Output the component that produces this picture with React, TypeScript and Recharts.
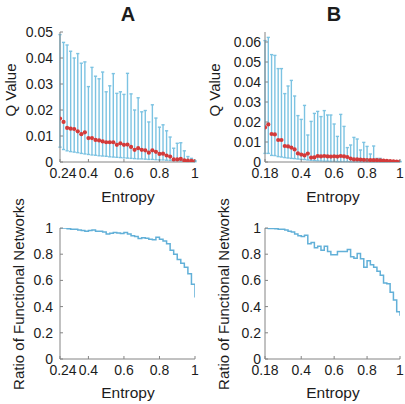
import { LineChart, Line, XAxis, YAxis, ErrorBar } from "recharts";

// entropy bins (x) for the two datasets
const entropyA = [
  0.24, 0.26, 0.28, 0.3, 0.32, 0.34, 0.36, 0.38, 0.4, 0.42, 0.44, 0.46, 0.48,
  0.5, 0.52, 0.54, 0.56, 0.58, 0.6, 0.62, 0.64, 0.66, 0.68, 0.7, 0.72, 0.74,
  0.76, 0.78, 0.8, 0.82, 0.84, 0.86, 0.88, 0.9, 0.92, 0.94, 0.96, 0.98, 1.0,
];
const entropyB = [
  0.18, 0.2, 0.22, 0.24, 0.26, 0.28, 0.3, 0.32, 0.34, 0.36, 0.38, 0.4, 0.42,
  0.44, 0.46, 0.48, 0.5, 0.52, 0.54, 0.56, 0.58, 0.6, 0.62, 0.64, 0.66, 0.68,
  0.7, 0.72, 0.74, 0.76, 0.78, 0.8, 0.82, 0.84, 0.86, 0.88, 0.9, 0.92, 0.94,
  0.96, 0.98, 1.0,
];

// Q value: mean, lower and upper end of the bar
const qMeanA = [
  0.0167, 0.0154, 0.0131, 0.0128, 0.0127, 0.0118, 0.0107, 0.0114, 0.0092,
  0.0092, 0.0085, 0.0083, 0.0079, 0.0076, 0.0076, 0.0076, 0.0066, 0.0072,
  0.0066, 0.0067, 0.0058, 0.0047, 0.0053, 0.0047, 0.0045, 0.0036, 0.0045,
  0.0039, 0.0031, 0.0032, 0.0025, 0.0021, 0.001, 0.001, 0.0012, 0.0006,
  0.0005, 0.0004, 0.0003,
];
const qLowA = [
  0.0057, 0.0048, 0.0043, 0.004, 0.0038, 0.0036, 0.0033, 0.0031, 0.0029,
  0.0027, 0.0026, 0.0024, 0.0023, 0.0022, 0.002, 0.0019, 0.0018, 0.0017,
  0.0016, 0.0015, 0.0014, 0.0013, 0.0012, 0.0012, 0.0011, 0.001, 0.001,
  0.0009, 0.0008, 0.0008, 0.0007, 0.0006, 0.0005, 0.0005, 0.0004, 0.0003,
  0.0002, 0.0002, 0.0001,
];
const qHighA = [
  0.049, 0.046, 0.045, 0.0426, 0.04, 0.0417, 0.038, 0.0385, 0.029, 0.0364,
  0.033, 0.032, 0.0346, 0.027, 0.0293, 0.034, 0.0264, 0.027, 0.026, 0.0341,
  0.0262, 0.02, 0.0247, 0.0193, 0.0198, 0.0154, 0.022, 0.0169, 0.0134, 0.0143,
  0.012, 0.0096, 0.0053, 0.0072, 0.0074, 0.0043, 0.0021, 0.0014, 0.0005,
];

const qMeanB = [
  0.0173, 0.0188, 0.014, 0.0138, 0.011, 0.011, 0.008, 0.0078, 0.0072, 0.0063,
  0.0043, 0.0037, 0.0033, 0.0042, 0.0022, 0.0023, 0.003, 0.0028, 0.003,
  0.0028, 0.0027, 0.0028, 0.0027, 0.003, 0.0028, 0.0025, 0.0017, 0.0013,
  0.0013, 0.0012, 0.0011, 0.001, 0.001, 0.0009, 0.0009, 0.0008, 0.0007,
  0.0006, 0.0004, 0.0003, 0.0002, 0.0002,
];
const qLowB = [
  0.0043, 0.0043, 0.0033, 0.0032, 0.0027, 0.0025, 0.0022, 0.002, 0.0018,
  0.0017, 0.0015, 0.0013, 0.0012, 0.001, 0.0008, 0.0007, 0.0006, 0.0005,
  0.0004, 0.0004, 0.0003, 0.0003, 0.0002, 0.0002, 0.0002, 0.0002, 0.0001,
  0.0001, 0.0001, 0.0001, 0.0001, 0.0001, 0.0001, 0.0001, 0.0001, 0.0001,
  0.0001, 0.0001, 0.0001, 0.0001, 0.0001, 0.0001,
];
const qHighB = [
  0.0607, 0.0623, 0.0537, 0.0533, 0.0467, 0.0467, 0.0342, 0.038, 0.0408,
  0.033, 0.0232, 0.0213, 0.0283, 0.0135, 0.0203, 0.0243, 0.0253, 0.0227,
  0.0257, 0.0235, 0.0235, 0.019, 0.0128, 0.0238, 0.0178, 0.0072, 0.0085,
  0.0123, 0.0115, 0.006, 0.0098, 0.0078, 0.004, 0.008, 0.0018, 0.0018, 0.001,
  0.0008, 0.0006, 0.0005, 0.0004, 0.0003,
];

// ratio of functional networks
const ratioA = [
  1.0, 1.0, 0.995, 0.99, 0.99, 0.985, 0.98, 0.975, 0.98, 0.985, 0.975, 0.975,
  0.97, 0.955, 0.96, 0.965, 0.962, 0.958, 0.965, 0.955, 0.94, 0.935, 0.92,
  0.925, 0.922, 0.915, 0.91, 0.93, 0.915, 0.9, 0.88, 0.83, 0.8, 0.76, 0.73,
  0.7, 0.65, 0.57, 0.47,
];
const ratioB = [
  1.0, 0.997, 0.997, 0.995, 0.99, 0.99, 0.985, 0.975, 0.97, 0.955, 0.94,
  0.935, 0.945, 0.88, 0.89, 0.85, 0.86, 0.83, 0.86, 0.82, 0.795, 0.795, 0.82,
  0.82, 0.82, 0.835, 0.78, 0.77, 0.805, 0.765, 0.7, 0.75, 0.72, 0.7, 0.67,
  0.64, 0.58, 0.575, 0.51, 0.45, 0.36, 0.33,
];

const xTicksA = [0.24, 0.4, 0.6, 0.8, 1];
const xTicksB = [0.18, 0.4, 0.6, 0.8, 1];
const qTicksA = [0, 0.01, 0.02, 0.03, 0.04, 0.05];
const qTicksB = [0, 0.01, 0.02, 0.03, 0.04, 0.05, 0.06];
const ratioTicks = [0, 0.2, 0.4, 0.6, 0.8, 1];

const AXIS = "#848484";
const TXT = "#1c1c1c";
const BAR = "#7cc3e2";
const DOT = "#d33a3a";
const STEP = "#62b0d8";
const FONT = "'Liberation Sans', Arial, Helvetica, sans-serif";

const fmt = (v: number) => String(v);

function BottomTick(props: any) {
  const { x, y, payload, index, shift = 0, margin = 6 } = props;
  const axisY = y - margin;
  return (
    <g>
      <line x1={x} x2={x} y1={axisY} y2={axisY - 3} stroke={AXIS} />
      <text
        x={x + (index === 0 ? shift : 0)}
        y={y}
        dy="0.71em"
        textAnchor="middle"
        fontSize={14}
        fill={TXT}
        fontFamily={FONT}
      >
        {fmt(payload.value)}
      </text>
    </g>
  );
}

function LeftTick(props: any) {
  const { x, y, payload, margin = 6 } = props;
  const axisX = x + margin;
  return (
    <g>
      <line x1={axisX} x2={axisX + 3} y1={y} y2={y} stroke={AXIS} />
      <text
        x={x}
        y={y}
        dy="0.36em"
        textAnchor="end"
        fontSize={14}
        fill={TXT}
        fontFamily={FONT}
      >
        {fmt(payload.value)}
      </text>
    </g>
  );
}

function TopTick(props: any) {
  const { x, y } = props;
  return <line x1={x} x2={x} y1={y} y2={y + 3} stroke={AXIS} />;
}

function RightTick(props: any) {
  const { x, y } = props;
  return <line x1={x} x2={x - 3} y1={y} y2={y} stroke={AXIS} />;
}

function RedDot(props: any) {
  const { cx, cy } = props;
  if (cx == null || cy == null) return null;
  return <circle cx={cx} cy={cy} r={2.1} fill={DOT} />;
}

interface FrameProps {
  xTicks: number[];
  xDomain: [number, number];
  yTicks: number[];
  yDomain: [number, number];
  yMargin: number;
  firstShift: number;
}

function frame({ xTicks, xDomain, yTicks, yDomain, yMargin, firstShift }: FrameProps) {
  return [
    <XAxis
      key="xb"
      dataKey="x"
      type="number"
      domain={xDomain}
      ticks={xTicks}
      interval={0}
      height={40}
      tickSize={0}
      tickMargin={6}
      tickLine={false}
      axisLine={{ stroke: AXIS }}
      tick={<BottomTick shift={firstShift} margin={6} />}
      allowDataOverflow
    />,
    <XAxis
      key="xt"
      xAxisId="top"
      orientation="top"
      dataKey="x"
      type="number"
      domain={xDomain}
      ticks={xTicks}
      interval={0}
      height={0}
      tickSize={0}
      tickMargin={0}
      tickLine={false}
      axisLine={{ stroke: AXIS }}
      tick={<TopTick />}
      allowDataOverflow
    />,
    <YAxis
      key="yl"
      type="number"
      domain={yDomain}
      ticks={yTicks}
      interval={0}
      width={60}
      tickSize={0}
      tickMargin={yMargin}
      tickLine={false}
      axisLine={{ stroke: AXIS }}
      tick={<LeftTick margin={yMargin} />}
      allowDataOverflow
    />,
    <YAxis
      key="yr"
      yAxisId="right"
      orientation="right"
      type="number"
      domain={yDomain}
      ticks={yTicks}
      interval={0}
      width={0}
      tickSize={0}
      tickMargin={0}
      tickLine={false}
      axisLine={{ stroke: AXIS }}
      tick={<RightTick />}
      allowDataOverflow
    />,
  ];
}

function QPanel(props: {
  left: number;
  top: number;
  xs: number[];
  mean: number[];
  low: number[];
  high: number[];
  xTicks: number[];
  yTicks: number[];
  yMax: number;
  yMargin: number;
  firstShift: number;
}) {
  const { left, top, xs, mean, low, high, xTicks, yTicks, yMax, yMargin, firstShift } = props;
  const data = xs.map((x, i) => ({
    x,
    mean: mean[i],
    err: [mean[i] - low[i], high[i] - mean[i]],
  }));
  return (
    <div style={{ position: "absolute", left, top }}>
      <LineChart
        width={200}
        height={210}
        data={data}
        margin={{ top: 32, right: 5, bottom: 8, left: 0 }}
      >
        {frame({
          xTicks,
          xDomain: [xs[0], 1],
          yTicks,
          yDomain: [0, yMax],
          yMargin,
          firstShift,
        })}
        <Line
          dataKey="mean"
          stroke="none"
          dot={<RedDot />}
          activeDot={false}
          isAnimationActive={false}
        >
          <ErrorBar
            dataKey="err"
            direction="y"
            width={1.6}
            stroke={BAR}
            strokeWidth={1.4}
            isAnimationActive={false}
          />
        </Line>
      </LineChart>
    </div>
  );
}

function RatioPanel(props: {
  left: number;
  top: number;
  xs: number[];
  ratio: number[];
  xTicks: number[];
  yMargin: number;
  firstShift: number;
}) {
  const { left, top, xs, ratio, xTicks, yMargin, firstShift } = props;
  const data = xs.map((x, i) => ({ x, r: ratio[i] }));
  return (
    <div style={{ position: "absolute", left, top }}>
      <LineChart
        width={200}
        height={208}
        data={data}
        margin={{ top: 32, right: 5, bottom: 5, left: 0 }}
      >
        {frame({
          xTicks,
          xDomain: [xs[0], 1],
          yTicks: ratioTicks,
          yDomain: [0, 1],
          yMargin,
          firstShift,
        })}
        <Line
          type="stepAfter"
          dataKey="r"
          stroke={STEP}
          strokeWidth={1.5}
          dot={false}
          activeDot={false}
          isAnimationActive={false}
        />
      </LineChart>
    </div>
  );
}

const labelStyle = { fontFamily: FONT, fill: TXT } as const;

export default function App() {
  return (
    <div
      style={{
        position: "absolute",
        left: 0,
        top: 0,
        width: 405,
        height: 404,
        background: "#fff",
      }}
    >
      <QPanel
        left={0}
        top={0}
        xs={entropyA}
        mean={qMeanA}
        low={qLowA}
        high={qHighA}
        xTicks={xTicksA}
        yTicks={qTicksA}
        yMax={0.05}
        yMargin={7}
        firstShift={3}
      />
      <QPanel
        left={205}
        top={0}
        xs={entropyB}
        mean={qMeanB}
        low={qLowB}
        high={qHighB}
        xTicks={xTicksB}
        yTicks={qTicksB}
        yMax={0.065}
        yMargin={4}
        firstShift={0}
      />
      <RatioPanel
        left={0}
        top={196}
        xs={entropyA}
        ratio={ratioA}
        xTicks={xTicksA}
        yMargin={7}
        firstShift={3}
      />
      <RatioPanel
        left={205}
        top={196}
        xs={entropyB}
        ratio={ratioB}
        xTicks={xTicksB}
        yMargin={4}
        firstShift={0}
      />
      <svg
        width={405}
        height={404}
        style={{ position: "absolute", left: 0, top: 0, pointerEvents: "none" }}
      >
        <text x={128} y={21} textAnchor="middle" fontSize={20} fontWeight="bold" {...labelStyle}>
          A
        </text>
        <text x={334} y={21} textAnchor="middle" fontSize={20} fontWeight="bold" {...labelStyle}>
          B
        </text>
        <text x={128} y={196} textAnchor="middle" dominantBaseline="central" fontSize={15.5} {...labelStyle}>
          Entropy
        </text>
        <text x={333} y={196} textAnchor="middle" dominantBaseline="central" fontSize={15.5} {...labelStyle}>
          Entropy
        </text>
        <text x={128} y={392} textAnchor="middle" dominantBaseline="central" fontSize={15.5} {...labelStyle}>
          Entropy
        </text>
        <text x={333} y={392} textAnchor="middle" dominantBaseline="central" fontSize={15.5} {...labelStyle}>
          Entropy
        </text>
        <text
          transform="translate(10 90) rotate(-90)"
          textAnchor="middle"
          dominantBaseline="central"
          fontSize={15}
          {...labelStyle}
        >
          Q Value
        </text>
        <text
          transform="translate(214 90) rotate(-90)"
          textAnchor="middle"
          dominantBaseline="central"
          fontSize={15}
          {...labelStyle}
        >
          Q Value
        </text>
        <text
          transform="translate(18 294) rotate(-90)"
          textAnchor="middle"
          dominantBaseline="central"
          fontSize={15}
          {...labelStyle}
        >
          Ratio of Functional Networks
        </text>
        <text
          transform="translate(223 294) rotate(-90)"
          textAnchor="middle"
          dominantBaseline="central"
          fontSize={15}
          {...labelStyle}
        >
          Ratio of Functional Networks
        </text>
      </svg>
    </div>
  );
}
